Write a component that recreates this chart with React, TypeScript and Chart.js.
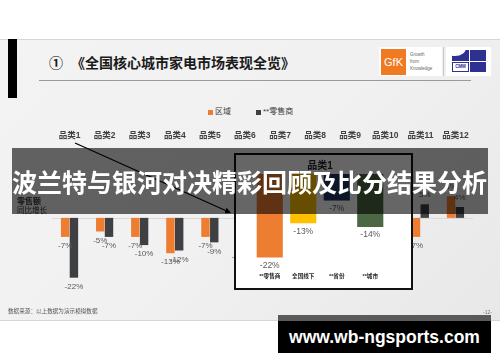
import React, { useEffect, useRef } from 'react';
import { Chart, registerables } from 'chart.js';

Chart.register(...registerables);

const FONT = "'Liberation Sans', 'Noto Sans CJK SC', sans-serif";
const CJK = "'Noto Sans CJK SC', 'Liberation Sans', sans-serif";

const seriesNames = ['区域', '**零售商'];
const categories = ['品类1', '品类2', '品类3', '品类4', '品类5', '品类6', '品类7', '品类8', '品类9', '品类10', '品类11', '品类12'];
const regionGrowth = [-7, -5, -7, -13, -7, -11, null, null, null, null, -7, 8];
const retailerGrowth = [-22, -7, -10, -12, -9, null, null, null, null, null, 5, 4];

const detailTitle = '品类1';
const detailCategories = ['**零售商', '全国线下', '**省份', '**城市'];
const detailGrowth = [-22, -13, -7, -14];

const seriesColors = ['#ED7D31', '#3E4044'];
const detailColors = ['#ED7D31', '#FFC000', '#22395F', '#4B6743'];

const pageTitle = '《全国核心城市家电市场表现全览》';
const bannerText = '波兰特与银河对决精彩回顾及比分结果分析';
const watermarkText = 'www.wb-ngsports.com';
const sourceNote = '数据来源：以上数据为演示模拟数据';
const axisNote = ['零售额', '同比增长'];

function valueLabels(fontSize: number, offset: number, color: string) {
  return {
    id: 'valueLabels',
    afterDatasetsDraw(chart: any) {
      const ctx = chart.ctx;
      ctx.save();
      ctx.font = `${fontSize}px ${FONT}`;
      ctx.fillStyle = color;
      ctx.textAlign = 'center';
      ctx.textBaseline = 'middle';
      chart.data.datasets.forEach((ds: any, di: number) => {
        const meta = chart.getDatasetMeta(di);
        meta.data.forEach((el: any, i: number) => {
          const v = ds.data[i];
          if (v === null || v === undefined) return;
          const y = v < 0 ? el.y + offset : el.y - offset;
          ctx.fillText(`${v}%`, el.x, y);
        });
      });
      ctx.restore();
    },
  };
}

const zeroLine = {
  id: 'zeroLine',
  beforeDatasetsDraw(chart: any) {
    const { ctx, chartArea, scales } = chart;
    const y = Math.round(scales.y.getPixelForValue(0)) + 0.5;
    ctx.save();
    ctx.strokeStyle = '#d9d9d9';
    ctx.lineWidth = 1;
    ctx.beginPath();
    ctx.moveTo(chartArea.left, y);
    ctx.lineTo(chartArea.right, y);
    ctx.stroke();
    ctx.restore();
  },
};

function MainChart() {
  const ref = useRef<HTMLCanvasElement>(null);
  useEffect(() => {
    const chart = new Chart(ref.current as HTMLCanvasElement, {
      type: 'bar',
      data: {
        labels: categories,
        datasets: [
          { label: seriesNames[0], data: regionGrowth, backgroundColor: seriesColors[0], categoryPercentage: 0.5, barPercentage: 0.96 },
          { label: seriesNames[1], data: retailerGrowth, backgroundColor: seriesColors[1], categoryPercentage: 0.5, barPercentage: 0.96 },
        ],
      },
      options: {
        responsive: false,
        animation: false,
        devicePixelRatio: 1,
        layout: { padding: { left: 52, right: 27, top: 0, bottom: 0 } },
        plugins: { legend: { display: false }, tooltip: { enabled: false }, title: { display: false } },
        scales: {
          x: {
            position: 'top',
            grid: { display: false, drawTicks: false },
            border: { display: false },
            ticks: { font: { family: FONT, size: 8.5, weight: 'bold' }, color: '#404040', padding: 4, autoSkip: false, maxRotation: 0 },
            afterFit: (s: any) => { s.height = 20; },
          },
          y: { display: false, min: -30.2, max: 26.8 },
        },
      } as any,
      plugins: [zeroLine, valueLabels(8, 9, '#595959')],
    });
    return () => chart.destroy();
  }, []);
  return <canvas ref={ref} width={500} height={175} style={{ position: 'absolute', left: 0, top: 125 }} />;
}

function DetailChart() {
  const ref = useRef<HTMLCanvasElement>(null);
  useEffect(() => {
    const chart = new Chart(ref.current as HTMLCanvasElement, {
      type: 'bar',
      data: {
        labels: detailCategories,
        datasets: [{ label: detailTitle, data: detailGrowth, backgroundColor: detailColors, categoryPercentage: 0.78, barPercentage: 1 }],
      },
      options: {
        responsive: false,
        animation: false,
        devicePixelRatio: 1,
        layout: { padding: { left: 17, right: 24, top: 0, bottom: 0 } },
        plugins: {
          legend: { display: false },
          tooltip: { enabled: false },
          title: { display: true, text: detailTitle, font: { family: FONT, size: 10, weight: 'bold' }, color: '#262626', padding: { top: 5, bottom: 2 } },
        },
        scales: {
          x: {
            position: 'bottom',
            grid: { display: false, drawTicks: false },
            border: { display: false },
            ticks: { font: { family: FONT, size: 5.6, weight: 'bold' }, color: '#262626', padding: 8, autoSkip: false, maxRotation: 0 },
            afterFit: (s: any) => { s.height = 23; },
          },
          y: { display: false, min: -24, max: 0 },
        },
      } as any,
      plugins: [valueLabels(8.5, 8, '#595959')],
    });
    return () => chart.destroy();
  }, []);
  return <canvas ref={ref} width={175} height={133} style={{ position: 'absolute', left: 236, top: 155 }} />;
}

const abs = (s: React.CSSProperties): React.CSSProperties => ({ position: 'absolute', ...s });

export default function App() {
  return (
    <div style={{ position: 'fixed', left: 0, top: 0, width: 500, height: 362, overflow: 'hidden', background: '#ffffff', fontFamily: FONT }}>
      {/* slide */}
      <div style={abs({ left: 0, top: 39, width: 500, height: 282, boxSizing: 'border-box', borderTop: '1px solid #d6d6d6', borderBottom: '1px solid #d6d6d6', background: 'linear-gradient(135deg, #f3f3f3 0%, #f1f1f1 50%, #e8e8e8 100%)' })} />
      <div style={abs({ left: 8, top: 39, width: 9, height: 59, background: '#000' })} />
      <div style={abs({ left: 49, top: 52, fontFamily: CJK, fontWeight: 700, fontSize: 14, lineHeight: '20px', color: '#1a1a1a', whiteSpace: 'nowrap' })}>①</div>
      <div style={abs({ left: 71, top: 52, fontFamily: CJK, fontWeight: 700, fontSize: 14, lineHeight: '20px', color: '#1a1a1a', whiteSpace: 'nowrap' })}>{pageTitle}</div>
      <div style={abs({ left: 39, top: 80, width: 432, height: 1, background: '#9a9a9a' })} />

      {/* logos */}
      <div style={abs({ left: 379, top: 47, width: 63, height: 29, background: '#fff' })} />
      <div style={abs({ left: 381, top: 49, width: 25, height: 26, background: '#F07A22', color: '#fff', fontSize: 11, lineHeight: '26px', textAlign: 'center', fontFamily: "'Liberation Sans', sans-serif" })}>GfK</div>
      <div style={abs({ left: 410, top: 51, fontSize: 4.5, lineHeight: '7px', color: '#666', fontFamily: "'Liberation Sans', sans-serif" })}>Growth<br />from<br />Knowledge</div>
      <div style={abs({ left: 443, top: 47, width: 1, height: 29, background: '#c8c8c8' })} />
      <div style={abs({ left: 446, top: 47, width: 45, height: 29, background: '#fff' })} />
      <div style={abs({ left: 452, top: 50, width: 17, height: 11, background: '#2E3192', overflow: 'hidden' })}>
        <div style={abs({ left: -8, top: -10, width: 22, height: 16, borderRadius: '50%', background: '#fff' })} />
      </div>
      <div style={abs({ left: 470, top: 50, width: 16, height: 11, background: '#2E3192' })} />
      <div style={abs({ left: 452, top: 62, width: 17, height: 10, boxSizing: 'border-box', border: '1px solid #2E3192', background: '#fff', color: '#2E3192', fontSize: 4.5, lineHeight: '8px', textAlign: 'center', fontWeight: 700 })}>CMM</div>
      <div style={abs({ left: 470, top: 62, width: 16, height: 10, background: '#2E3192' })} />

      {/* legend */}
      <div style={abs({ left: 208, top: 110, width: 5, height: 5, background: seriesColors[0] })} />
      <div style={abs({ left: 215, top: 106, fontSize: 8, lineHeight: '12px', color: '#404040', whiteSpace: 'nowrap' })}>{seriesNames[0]}</div>
      <div style={abs({ left: 256, top: 110, width: 5, height: 5, background: seriesColors[1] })} />
      <div style={abs({ left: 263, top: 106, fontSize: 8, lineHeight: '12px', color: '#404040', whiteSpace: 'nowrap' })}>{seriesNames[1]}</div>

      <MainChart />

      <div style={abs({ left: 17, top: 196, fontFamily: CJK, fontSize: 8, fontWeight: 700, lineHeight: '9px', color: '#333', whiteSpace: 'nowrap' })}>{axisNote[0]}</div>
      <div style={abs({ left: 17, top: 205, fontFamily: CJK, fontSize: 7.5, lineHeight: '9px', color: '#333', whiteSpace: 'nowrap' })}>{axisNote[1]}</div>

      {/* detail box */}
      <div style={abs({ left: 234, top: 153, width: 179, height: 137, boxSizing: 'border-box', border: '2px solid #111', background: '#fff' })} />
      <DetailChart />

      {/* arrow */}
      <svg width={500} height={362} style={abs({ left: 0, top: 0 })}>
        <defs>
          <marker id="ah" markerWidth="6" markerHeight="6" refX="5" refY="3" orient="auto" markerUnits="userSpaceOnUse">
            <path d="M0,0 L6,3 L0,6 z" fill="#000" />
          </marker>
        </defs>
        <line x1={75} y1={143} x2={230} y2={212.5} stroke="#000" strokeWidth={1.3} markerEnd="url(#ah)" />
      </svg>

      <div style={abs({ left: 8, top: 307, fontFamily: CJK, fontSize: 5.6, lineHeight: '8px', color: '#555', whiteSpace: 'nowrap' })}>{sourceNote}</div>
      <div style={abs({ left: 483, top: 309, fontSize: 5, lineHeight: '7px', color: '#777' })}>-12-</div>

      {/* banner overlay */}
      <div style={abs({ left: 12, top: 148, width: 476, height: 66, background: 'rgba(0,0,0,0.6)' })} />
      <div style={abs({ left: 12, top: 148, width: 476, height: 66, fontFamily: CJK, fontWeight: 700, fontSize: 25, lineHeight: '66px', color: '#fff', whiteSpace: 'nowrap' })}>{bannerText}</div>

      {/* watermark */}
      <div style={abs({ left: 278, top: 315, width: 213, height: 6, background: '#5a5a5a' })} />
      <div style={abs({ left: 278, top: 321, width: 213, height: 32, background: '#000', color: '#fff', fontFamily: "'Liberation Sans', sans-serif", fontWeight: 700, fontSize: 17.5, lineHeight: '32px', textAlign: 'center', whiteSpace: 'nowrap' })}>{watermarkText}</div>
    </div>
  );
}
